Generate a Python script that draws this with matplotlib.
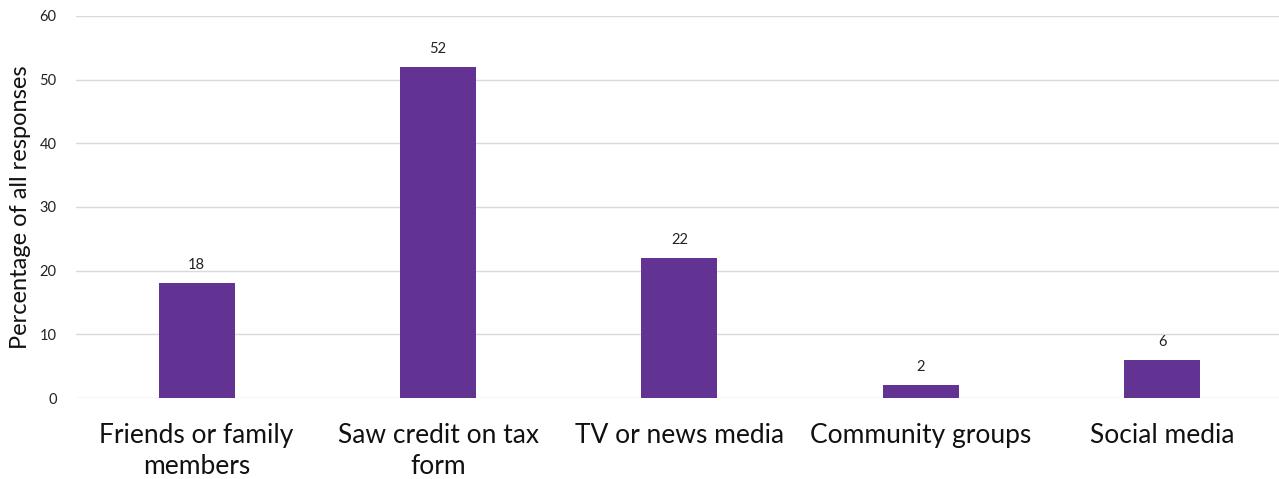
import matplotlib
matplotlib.use("Agg")
import matplotlib.pyplot as plt

categories = ["Friends or family\nmembers", "Saw credit on tax\nform", "TV or news media",
              "Community groups", "Social media"]
values = [18, 52, 22, 2, 6]
yticks = [0, 10, 20, 30, 40, 50, 60]

plt.rcParams['font.family'] = ['Lato', 'DejaVu Sans']

fig = plt.figure(figsize=(12.79, 4.79), dpi=100)
ax = fig.add_axes([0.0594, 0.1691, 0.9437, 0.7975])
x = list(range(len(categories)))
bars = ax.bar(x, values, width=0.315, color="#633393", zorder=3)
for xi, v in zip(x, values):
    ax.annotate(str(v), (xi, v), xytext=(0, 8), textcoords="offset points",
                ha="center", va="bottom", fontsize=10.5, color="#222222")
ax.set_xlim(-0.5, len(categories) - 0.5)
ax.set_ylim(0, 60)
ax.set_yticks(yticks)
ax.set_xticks(x)
ax.set_xticklabels(categories, fontsize=19, color="#111111", linespacing=1.3)
ax.tick_params(axis="y", labelsize=10.5, length=0, pad=14, colors="#222222")
ax.tick_params(axis="x", length=0, pad=18)
ax.yaxis.grid(True, color="#d9d9d9", linewidth=1, zorder=0)
for s in ax.spines.values():
    s.set_visible(False)
ax.set_ylabel("Percentage of all responses", fontsize=17, color="#111111", labelpad=6)
fig.savefig("out.png", dpi=100)
